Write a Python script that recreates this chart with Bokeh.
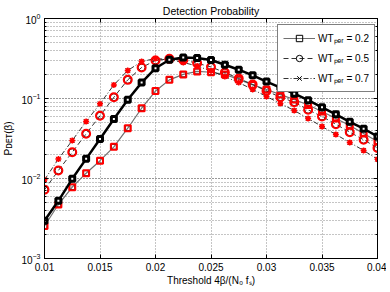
from bokeh.plotting import figure
from bokeh.models import (Legend, LegendItem, FixedTicker, ColumnDataSource,
                          LinearAxis, LogAxis, LogTicker)
from bokeh.embed import file_html
from bokeh.resources import INLINE

# ---------------- data ----------------
thresholds = [0.01, 0.01125, 0.0125, 0.01375, 0.015, 0.01625, 0.0175, 0.01875,
              0.02, 0.02125, 0.0225, 0.02375, 0.025, 0.02625, 0.0275, 0.02875,
              0.03, 0.03125, 0.0325, 0.03375, 0.035, 0.03625, 0.0375, 0.03875, 0.04]

p_ref = [0.00296, 0.00526, 0.00991, 0.0176, 0.0312, 0.0554, 0.0964, 0.158,
         0.239, 0.305, 0.325, 0.321, 0.303, 0.264, 0.229, 0.195, 0.163, 0.137,
         0.115, 0.0953, 0.0776, 0.0635, 0.0511, 0.0419, 0.0335]

p_wt02 = [0.00255, 0.00473, 0.00779, 0.01165, 0.0167, 0.0249, 0.0425, 0.0756,
          0.124, 0.171, 0.200, 0.218, 0.213, 0.200, 0.173, 0.148, 0.1296, 0.112,
          0.0972, 0.0829, 0.0688, 0.0562, 0.046, 0.0365, 0.029]

p_wt05 = [0.00722, 0.0126, 0.0213, 0.0362, 0.0608, 0.1038, 0.171, 0.244,
          0.299, 0.313, 0.303, 0.276, 0.248, 0.211, 0.178, 0.150, 0.124, 0.104,
          0.090, 0.0722, 0.0596, 0.0477, 0.0379, 0.0305, 0.0241]

p_wt07 = [0.00964, 0.0175, 0.0299, 0.0516, 0.0859, 0.148, 0.224, 0.290,
          0.316, 0.307, 0.282, 0.255, 0.221, 0.188, 0.158, 0.130, 0.106, 0.0866,
          0.0708, 0.0562, 0.0447, 0.0355, 0.0282, 0.0224, 0.0174]

x_ticks = [0.01, 0.015, 0.02, 0.025, 0.03, 0.035, 0.04]
x_tick_labels = ["0.01", "0.015", "0.02", "0.025", "0.03", "0.035", "0.04"]
legend_labels = ["WT\u209a\u2091\u1d63 = 0.2", "WT\u209a\u2091\u1d63 = 0.5",
                 "WT\u209a\u2091\u1d63 = 0.7"]

FONT = "Liberation Sans"

src = ColumnDataSource(dict(x=thresholds, ref=p_ref, a=p_wt02, b=p_wt05, c=p_wt07))

p = figure(frame_width=333, frame_height=240,
           x_range=(0.01, 0.04), y_range=(1e-3, 1), y_axis_type="log",
           output_backend="svg", toolbar_location=None,
           min_border_left=39, min_border_right=9,
           min_border_top=0, min_border_bottom=0,
           title="Detection Probability")
p.background_fill_color = "white"
p.border_fill_color = "white"
p.outline_line_color = "black"
p.outline_line_width = 1

p.title.align = "center"
p.title.text_font = FONT
p.title.text_font_size = "10.5px"
p.title.text_font_style = "normal"
p.title.text_color = "black"
p.title.standoff = 4

# axes
p.xaxis.ticker = FixedTicker(ticks=x_ticks)
p.xaxis.major_label_overrides = dict(zip(x_ticks, x_tick_labels))
for ax in (p.xaxis[0], p.yaxis[0]):
    ax.major_tick_in = 4
    ax.major_tick_out = 0
    ax.minor_tick_in = 2
    ax.minor_tick_out = 0
    ax.axis_line_color = "black"
    ax.major_tick_line_color = "black"
    ax.minor_tick_line_color = "black"
    ax.major_label_text_font = FONT
    ax.major_label_text_font_size = "10px"
    ax.major_label_text_color = "black"
    ax.axis_label_text_font = FONT
    ax.axis_label_text_font_size = "10px"
    ax.axis_label_text_font_style = "normal"
    ax.axis_label_text_color = "black"
p.xaxis.major_label_standoff = 4
p.yaxis.major_label_standoff = 4
p.xaxis.axis_label = "Threshold 4\u03b2/(N\u2080 f\u209b)"
p.xaxis.axis_label_standoff = 1
p.yaxis.axis_label = "P\u1d05\u1d07\u1d1b(\u03b2)"
p.yaxis.axis_label_standoff = 4

# mirrored tick marks on top and right (MATLAB box style)
top_ax = LinearAxis(ticker=FixedTicker(ticks=x_ticks),
                    major_label_text_font_size="1px", major_label_text_alpha=0,
                    major_label_standoff=0, major_tick_in=4, major_tick_out=0,
                    minor_tick_in=0, minor_tick_out=0, axis_line_color="black")
right_ax = LogAxis(ticker=LogTicker(),
                   major_label_text_font_size="1px", major_label_text_alpha=0,
                   major_label_standoff=0, major_tick_in=4, major_tick_out=0,
                   minor_tick_in=2, minor_tick_out=0, axis_line_color="black")
p.add_layout(top_ax, "above")
p.add_layout(right_ax, "right")

# grid
for g in (p.xgrid[0], p.ygrid[0]):
    g.grid_line_color = "#8a8a8a"
    g.grid_line_dash = "1 2"
    g.grid_line_width = 1
p.ygrid.minor_grid_line_color = "#8a8a8a"
p.ygrid.minor_grid_line_dash = "1 2"
p.ygrid.minor_grid_line_width = 1

# thin theory lines
l02 = p.line("x", "a", source=src, line_color="#707070", line_width=1.2)
l05 = p.line("x", "b", source=src, line_color="black", line_width=0.8, line_dash="5 3")
l07 = p.line("x", "c", source=src, line_color="black", line_width=0.8, line_dash="5 2 1 2")

m02 = p.scatter("x", "a", source=src, marker="square", size=5, fill_color=None,
                line_color="black", line_width=1)
m05 = p.scatter("x", "b", source=src, marker="circle", size=7, fill_color=None,
                line_color="black", line_width=1)
m07 = p.scatter("x", "c", source=src, marker="x", size=6,
                line_color="black", line_width=1)

# simulation markers (red)
p.scatter("x", "a", source=src, marker="square", size=6, fill_color=None,
          line_color="red", line_width=2)
p.scatter("x", "b", source=src, marker="circle", size=8, fill_color=None,
          line_color="red", line_width=2)
p.scatter("x", "c", source=src, marker="asterisk", size=6,
          line_color="red", line_width=1.5)

# thick reference curve
p.line("x", "ref", source=src, line_color="black", line_width=2.5)
p.scatter("x", "ref", source=src, marker="square", size=5, fill_color="white",
          line_color="black", line_width=3)

# legend
legend = Legend(items=[LegendItem(label=legend_labels[0], renderers=[l02, m02]),
                       LegendItem(label=legend_labels[1], renderers=[l05, m05]),
                       LegendItem(label=legend_labels[2], renderers=[l07, m07])],
                location=(233, 166), padding=5, spacing=4, margin=0,
                glyph_width=32, glyph_height=16, label_height=16,
                label_width=50, label_standoff=3,
                border_line_color="black", border_line_width=1,
                background_fill_color="white", background_fill_alpha=1,
                label_text_font=FONT, label_text_font_size="10px",
                label_text_color="black")
p.add_layout(legend, "center")

open("out.html", "w").write(file_html(p, INLINE))
